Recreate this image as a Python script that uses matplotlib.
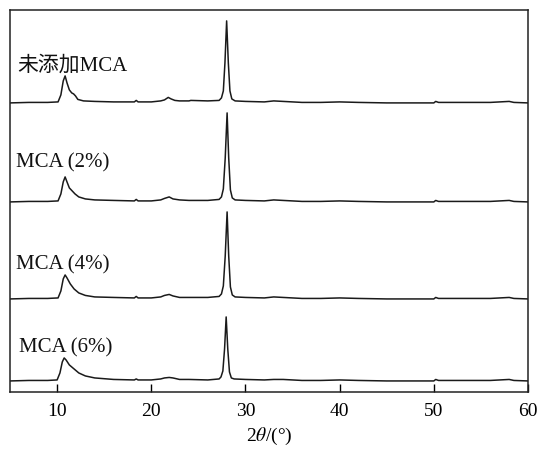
import matplotlib
matplotlib.use("Agg")
import matplotlib.pyplot as plt

# 2theta positions and relative intensities, one series per sample
labels = ["未添加MCA", "MCA (2%)", "MCA (4%)", "MCA (6%)"]
offsets = [289, 190, 93, 11]

x0 = [5, 7, 9, 10.1, 10.4, 10.65, 10.85, 11.05, 11.3, 11.55, 11.75, 11.95, 12.2, 12.8, 14, 16, 18.2, 18.4, 18.6,
      20, 21.0, 21.4, 21.8, 22.1, 22.5, 23, 24, 24.2, 26, 27.2, 27.45, 27.65, 27.82, 28.0, 28.18, 28.35, 28.55, 28.9, 30, 32,
      33.0, 34, 36, 38, 40, 42, 45, 48, 50, 50.2, 50.5, 53, 56, 58, 58.5, 60]
y0 = [0, 0.5, 0.5, 1, 8, 22, 27, 20, 13, 10, 9, 7, 3.5, 2, 1.5, 1, 1, 2.5, 1,
      1, 2, 3, 5.5, 4, 2.5, 2, 2, 2.5, 2, 2.5, 5, 12, 40, 82, 40, 12, 4, 2, 1.5, 1,
      2, 1.5, 0.5, 0.5, 1, 0.5, 0, 0, 0, 1.5, 0.5, 0.5, 0.5, 1.5, 0.5, 0]

x1 = [5, 7, 9, 10.1, 10.4, 10.65, 10.85, 11.05, 11.3, 11.6, 11.9, 12.3, 13, 14, 16, 18.2, 18.4, 18.6,
      20, 21.0, 21.4, 21.9, 22.3, 23, 24, 26, 27.2, 27.45, 27.65, 27.85, 28.05, 28.22, 28.4, 28.6, 28.9, 30, 32,
      33.0, 34, 36, 38, 40, 42, 45, 48, 50, 50.2, 50.5, 53, 56, 58, 58.5, 60]
y1 = [0, 0.5, 0.5, 1, 8, 20, 25, 20, 14, 11, 8, 5, 3, 2, 1.5, 1, 2.5, 1,
      1, 2, 3.5, 5, 3, 2, 1.5, 1.5, 2.5, 5, 13, 44, 89, 44, 12, 4, 2, 1.5, 1,
      2, 1.5, 0.5, 0.5, 1, 0.5, 0, 0, 0, 1.5, 0.5, 0.5, 0.5, 1.5, 0.5, 0]

x2 = [5, 7, 9, 10.1, 10.4, 10.65, 10.85, 11.05, 11.4, 11.8, 12.3, 13, 14, 16, 18.2, 18.4, 18.6,
      20, 21.0, 21.4, 21.9, 22.3, 23, 24, 26, 27.2, 27.45, 27.65, 27.85, 28.05, 28.22, 28.4, 28.6, 28.9, 30, 32,
      33.0, 34, 36, 38, 40, 42, 45, 48, 50, 50.2, 50.5, 53, 56, 58, 58.5, 60]
y2 = [0, 0.5, 0.5, 1, 8, 20, 24, 21, 15, 10, 6, 3.5, 2, 1.5, 1, 2.5, 1,
      1, 2, 3.5, 4.5, 3, 1.5, 1.5, 1.5, 2.5, 5, 13, 43, 87, 43, 12, 4, 2, 1.5, 1,
      2, 1.5, 0.5, 0.5, 1, 0.5, 0, 0, 0, 1.5, 0.5, 0.5, 0.5, 1.5, 0.5, 0]

x3 = [5, 7, 9, 10.0, 10.3, 10.55, 10.75, 10.95, 11.3, 11.8, 12.3, 13, 14, 16, 18.2, 18.4, 18.6,
      20, 21.0, 21.4, 21.9, 22.3, 23, 24, 26, 27.2, 27.4, 27.6, 27.78, 27.95, 28.12, 28.3, 28.5, 28.8, 30, 32,
      33.0, 34, 36, 38, 40, 42, 45, 48, 50, 50.2, 50.5, 53, 56, 58, 58.5, 60]
y3 = [0, 0.5, 0.5, 1, 8, 19, 23, 21, 16, 12, 8, 5, 3, 1.5, 1, 2, 1,
      1, 2, 3, 3.5, 3, 1.5, 1.5, 1, 2, 4, 10, 32, 64, 32, 9, 3, 2, 1.5, 1,
      1.5, 1.5, 0.5, 0.5, 1, 0.5, 0, 0, 0, 1.5, 0.5, 0.5, 0.5, 1.5, 0.5, 0]

series_x = [x0, x1, x2, x3]
series_y = [y0, y1, y2, y3]

xticks = [10, 20, 30, 40, 50, 60]

plt.rcParams['font.family'] = ['Liberation Serif', 'Noto Sans CJK SC']
plt.rcParams['mathtext.fontset'] = 'stix'

fig = plt.figure(figsize=(5.39, 4.5), dpi=100)
ax = fig.add_axes([0.0186, 0.129, 0.961, 0.849])

for xs, ys, off in zip(series_x, series_y, offsets):
    ax.plot(xs, [v + off for v in ys], color='#1a1a1a', lw=1.1)

label_pos = [(5.74, 321), (5.65, 224), (5.65, 122), (5.95, 39)]
for lab, (tx, ty) in zip(labels, label_pos):
    ax.text(tx, ty, lab, fontsize=15, ha='left', va='baseline', color='#111')

ax.set_xlim(5, 60)
ax.set_ylim(0, 382)
ax.set_xticks(xticks)
ax.set_xticklabels([str(t) for t in xticks], fontsize=14)
ax.set_yticks([])
ax.tick_params(axis='x', direction='in', length=6, width=1, pad=8)
for s in ax.spines.values():
    s.set_linewidth(1.1)
    s.set_color('#222')
ax.set_xlabel(r'2$\it{\theta}$/(°)', fontsize=14, labelpad=4)

fig.savefig('out.png', dpi=100)
